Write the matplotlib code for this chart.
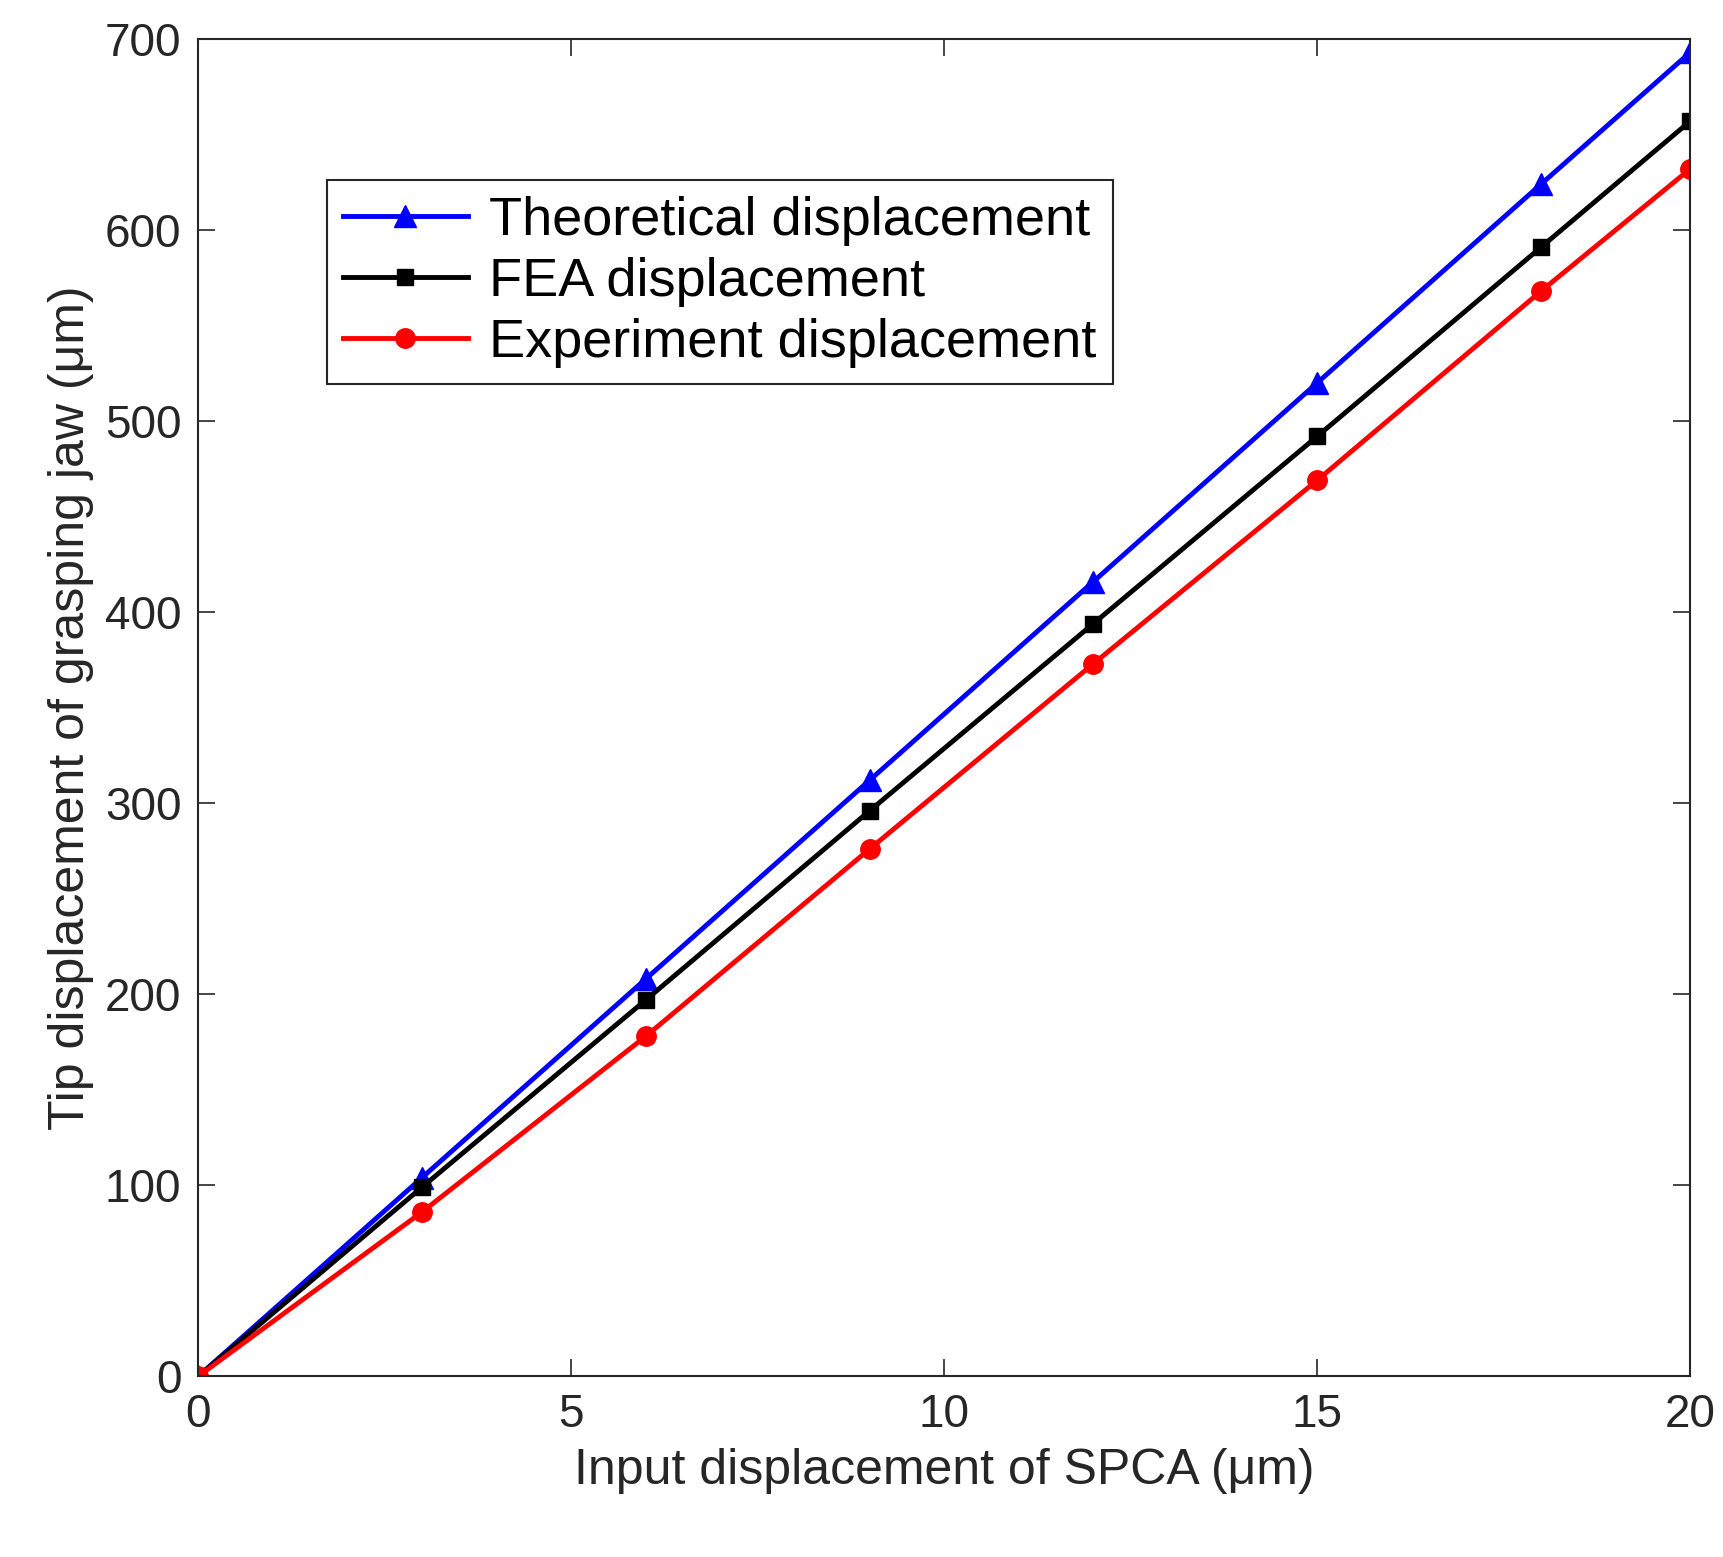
import matplotlib
matplotlib.use("Agg")
import matplotlib.pyplot as plt

plt.rcParams["font.family"] = ["Liberation Sans", "DejaVu Sans"]

x_input = [0, 3, 6, 9, 12, 15, 18, 20]
theoretical = [0, 104, 208, 312, 416, 520, 624, 693]
fea = [0, 99, 197, 296, 394, 492, 591, 657]
experiment = [0, 86, 178, 276, 373, 469, 568, 632]

fig = plt.figure(figsize=(17.23, 15.57), dpi=100)
ax = fig.add_axes([0.115, 0.116, 0.866, 0.859])

ax.plot(x_input, theoretical, "-^", color="blue", lw=3.5, ms=16, label="Theoretical displacement")
ax.plot(x_input, fea, "-s", color="black", lw=3.5, ms=12, label="FEA displacement")
ax.plot(x_input, experiment, "-o", color="red", lw=3.5, ms=14, label="Experiment displacement")

ax.set_xlim(0, 20)
ax.set_ylim(0, 700)
ax.set_xticks([0, 5, 10, 15, 20])
ax.set_yticks(range(0, 701, 100))
ax.tick_params(labelsize=33, direction="in", length=12, width=1.2, pad=12,
               top=True, right=True, colors="#262626")
for s in ax.spines.values():
    s.set_linewidth(1.5)
    s.set_color("#262626")
ax.set_xlabel("Input displacement of SPCA (μm)", fontsize=36, color="#262626", labelpad=8)
ax.set_ylabel("Tip displacement of grasping jaw (μm)", fontsize=36, color="#262626", labelpad=8)

leg = ax.legend(loc="upper left", bbox_to_anchor=(0.068, 0.915), fontsize=39, fancybox=False,
                edgecolor="#262626", framealpha=1, handlelength=2.3, handletextpad=0.4,
                borderpad=0.3, labelspacing=0.2)
leg.get_frame().set_linewidth(1.5)

fig.savefig("out.png", dpi=100)
